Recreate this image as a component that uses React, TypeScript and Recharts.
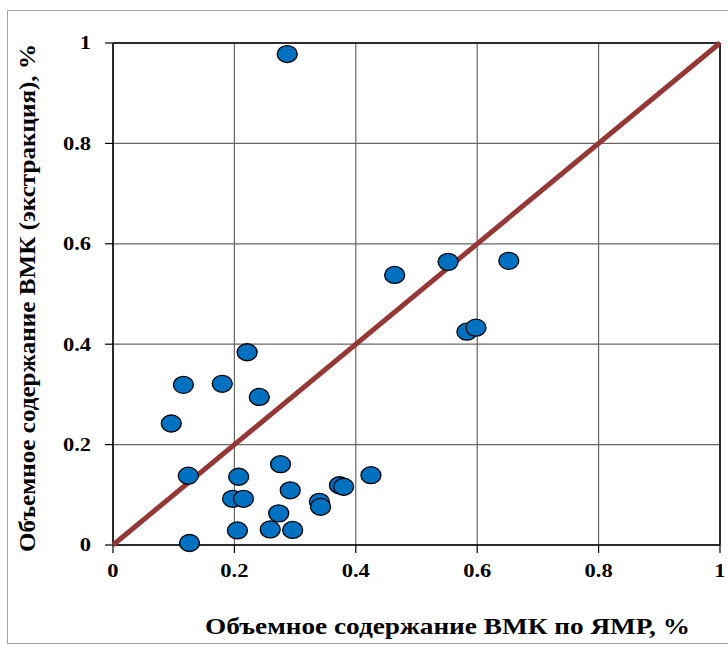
import React from 'react';
import {
  ScatterChart,
  Scatter,
  XAxis,
  YAxis,
  CartesianGrid,
  ReferenceLine,
} from 'recharts';

// NMR volume content (x) vs extraction (y), %
const nmrValues = [
  0.287, 0.464, 0.552, 0.652, 0.583, 0.598, 0.221, 0.116, 0.18, 0.241, 0.096,
  0.124, 0.207, 0.276, 0.292, 0.197, 0.215, 0.273, 0.205, 0.259, 0.296, 0.126,
  0.34, 0.342, 0.373, 0.38, 0.425,
];
const extractionValues = [
  0.978, 0.538, 0.564, 0.566, 0.425, 0.433, 0.384, 0.319, 0.321, 0.295, 0.242,
  0.138, 0.136, 0.161, 0.109, 0.092, 0.092, 0.063, 0.029, 0.031, 0.03, 0.004,
  0.086, 0.076, 0.119, 0.116, 0.139,
];
const diagonalX = [0, 1];
const diagonalY = [0, 1];
const tickValues = [0, 0.2, 0.4, 0.6, 0.8, 1];

const xLabel = 'Объемное содержание ВМК по ЯМР, %';
const yLabel = 'Объемное содержание ВМК (экстракция), %';

const points = nmrValues.map((x, i) => ({ x, y: extractionValues[i] }));
const diagonal = diagonalX.map((x, i) => ({ x, y: diagonalY[i] }));

const textStyle = {
  fontFamily: "'Liberation Serif', Tinos, 'Times New Roman', serif",
  fontWeight: 700,
};

const fmt = (v: number) => String(v);

const XTick = ({ x, y, payload }: any) => (
  <g transform={`translate(${x},${y})`}>
    <text
      transform="scale(1.25,1)"
      textAnchor="middle"
      dy="0.71em"
      style={{ ...textStyle, fontSize: 18 }}
      fill="#000"
    >
      {fmt(payload.value)}
    </text>
  </g>
);

const YTick = ({ x, y, payload }: any) => (
  <g transform={`translate(${x},${y})`}>
    <text
      transform="scale(1.25,1)"
      textAnchor="end"
      dy="0.355em"
      style={{ ...textStyle, fontSize: 18 }}
      fill="#000"
    >
      {fmt(payload.value)}
    </text>
  </g>
);

const XLabel = ({ viewBox }: any) => {
  const cx = viewBox.x + viewBox.width / 2 + 31;
  const cy = viewBox.y + 89;
  return (
    <text
      x={cx}
      y={cy}
      textAnchor="middle"
      style={{ ...textStyle, fontSize: 23 }}
      textLength={485}
      lengthAdjust="spacingAndGlyphs"
      fill="#000"
    >
      {xLabel}
    </text>
  );
};

const YLabel = ({ viewBox }: any) => {
  const cx = viewBox.x - 26;
  const cy = viewBox.y + viewBox.height / 2 + 4;
  return (
    <text
      x={cx}
      y={cy}
      transform={`rotate(-90, ${cx}, ${cy})`}
      textAnchor="middle"
      dominantBaseline="central"
      style={{ ...textStyle, fontSize: 23 }}
      textLength={508}
      lengthAdjust="spacingAndGlyphs"
      fill="#000"
    >
      {yLabel}
    </text>
  );
};

const Dot = ({ cx, cy }: any) => (
  <ellipse cx={cx} cy={cy} rx={10} ry={8.5} fill="#0070C0" stroke="#000" strokeWidth={1.3} />
);

const NoDot = () => <g />;

export default function App() {
  return (
    <div
      style={{
        position: 'absolute',
        left: 0,
        top: 0,
        width: 728,
        height: 645,
        overflow: 'hidden',
        background: '#fff',
      }}
    >
      <div
        style={{
          position: 'absolute',
          left: 7,
          top: 10,
          width: 760,
          height: 632,
          border: '1.5px solid #a6a6a6',
        }}
      />
      <div style={{ position: 'absolute', left: 0, top: 0 }}>
        <ScatterChart width={728} height={645} margin={{ top: 43, right: 8, left: 53, bottom: 10 }}>
          <CartesianGrid stroke="#666" strokeWidth={1.2} />
          <XAxis
            type="number"
            dataKey="x"
            domain={[0, 1]}
            ticks={tickValues}
            interval={0}
            height={90}
            tickSize={8}
            tickMargin={11}
            axisLine={{ stroke: '#000', strokeWidth: 1.5 }}
            tickLine={{ stroke: '#000', strokeWidth: 1.2 }}
            tick={<XTick />}
            label={<XLabel />}
          />
          <YAxis
            type="number"
            dataKey="y"
            domain={[0, 1]}
            ticks={tickValues}
            interval={0}
            width={60}
            tickSize={8}
            tickMargin={14}
            axisLine={{ stroke: '#000', strokeWidth: 1.5 }}
            tickLine={{ stroke: '#000', strokeWidth: 1.2 }}
            tick={<YTick />}
            label={<YLabel />}
          />
          <ReferenceLine y={1} stroke="#000" strokeWidth={1.5} />
          <ReferenceLine x={1} stroke="#000" strokeWidth={1.5} />
          <Scatter
            data={diagonal}
            line={{ stroke: '#953735', strokeWidth: 5 }}
            shape={<NoDot />}
            isAnimationActive={false}
          />
          <Scatter data={points} shape={<Dot />} isAnimationActive={false} />
        </ScatterChart>
      </div>
    </div>
  );
}
